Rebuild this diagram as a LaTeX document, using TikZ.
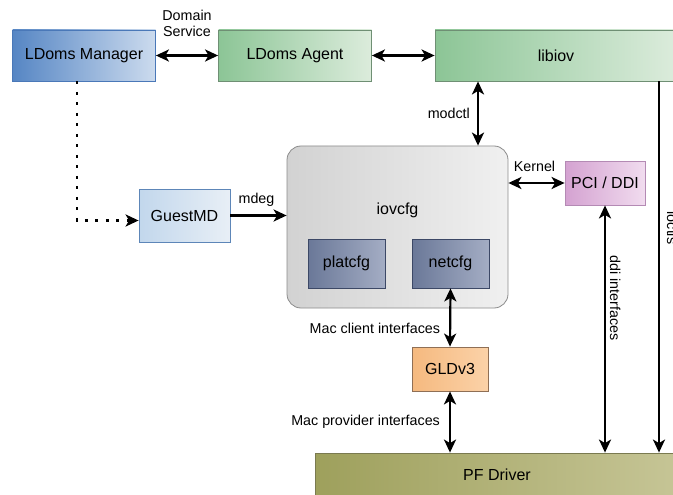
\documentclass[tikz,border=0pt]{standalone}
\usepackage{fontspec}
\setmainfont{Liberation Sans}
\usetikzlibrary{arrows.meta,positioning}

\definecolor{mgrL}{HTML}{5686C4}
\definecolor{mgrR}{HTML}{CCDBEE}
\definecolor{mgrD}{HTML}{4A78B8}
\definecolor{agtL}{HTML}{8CC596}
\definecolor{agtR}{HTML}{DCECDC}
\definecolor{agtD}{HTML}{6F8F74}
\definecolor{gstL}{HTML}{C2D7EC}
\definecolor{gstR}{HTML}{E8EFF6}
\definecolor{gstD}{HTML}{5D86B8}
\definecolor{iovL}{HTML}{D2D2D2}
\definecolor{iovR}{HTML}{F0F0F0}
\definecolor{iovD}{HTML}{8C8C8C}
\definecolor{cfgL}{HTML}{6A7898}
\definecolor{cfgR}{HTML}{A4ADC4}
\definecolor{cfgD}{HTML}{3C4866}
\definecolor{pciL}{HTML}{D4A2D1}
\definecolor{pciR}{HTML}{F1DCEF}
\definecolor{pciD}{HTML}{B48AB4}
\definecolor{gldL}{HTML}{F5B97F}
\definecolor{gldR}{HTML}{FBD2A8}
\definecolor{gldD}{HTML}{8F6F55}
\definecolor{pfL}{HTML}{9EA05C}
\definecolor{pfR}{HTML}{C6C596}
\definecolor{pfD}{HTML}{7A7A50}

\begin{document}
\begin{tikzpicture}[x=1pt,y=-1pt,>={Stealth[length=13pt,width=12pt,inset=3.5pt]},line width=2.2pt]
  \tikzstyle{box}=[rectangle,line width=0.8pt,inner sep=0pt,
                   font=\fontsize{16}{19}\selectfont]
  \tikzstyle{lbl}=[font=\fontsize{14.3}{16}\selectfont,inner sep=1pt]
  \tikzstyle{mgr box}=[box,draw=mgrD,left color=mgrL,right color=mgrR]
  \tikzstyle{agt box}=[box,draw=agtD,left color=agtL,right color=agtR]
  \tikzstyle{cfg box}=[box,draw=cfgD,left color=cfgL,right color=cfgR]
  \clip (0,0) rectangle (673,495);
  \fill[white] (0,0) rectangle (673,495);
  % top row
  \node [mgr box,minimum width=143pt,minimum height=51pt] (mgr) at (84,55.5) {LDoms Manager};
  \node [agt box,minimum width=153pt,minimum height=51pt] (agent) at (295,55.5) {LDoms Agent};
  \node [agt box,minimum width=242pt,minimum height=51pt] (libiov) at (556,55.5) {libiov};
  % middle
  \node [box,draw=gstD,left color=gstL,right color=gstR,
         minimum width=91pt,minimum height=53pt] (guest) at (184.5,215.5) {GuestMD};
  \node [box,draw=iovD,left color=iovL,right color=iovR,rounded corners=14pt,
         minimum width=221pt,minimum height=162pt,
         label={[font=\fontsize{16}{19}\selectfont,yshift=17pt]center:iovcfg}] (iovcfg) at (397.5,227) {};
  \node [cfg box,minimum width=77pt,minimum height=49pt] (platcfg) at (346.5,263.5) {platcfg};
  \node [cfg box,minimum width=77pt,minimum height=49pt] (netcfg) at (450.5,263.5) {netcfg};
  \node [box,draw=pciD,left color=pciL,right color=pciR,
         minimum width=80pt,minimum height=44pt] (pci) at (605,183) {PCI / DDI};
  % bottom
  \node [box,draw=gldD,left color=gldL,right color=gldR,
         minimum width=76pt,minimum height=44pt] (gld) at (450,369) {GLDv3};
  \node [box,draw=pfD,left color=pfL,right color=pfR,
         minimum width=364pt,minimum height=44pt] (pf) at (497,475) {PF Driver};
  \coordinate (modx) at (478,0);
  \coordinate (ioctx) at (659,0);

  \draw [<->] (mgr) -- (agent)
    node [lbl,midway,above=17pt,align=center] {Domain\\Service};
  \draw [<->] (agent) -- (libiov);
  \draw [<->] (iovcfg.north -| modx) -- (libiov.south -| modx)
    node [lbl,midway,left=6pt] {modctl};
  \draw [->,line width=2.5pt,dash pattern=on 3pt off 7.5pt] ([xshift=-7pt]mgr.south) |- ([yshift=-5pt]guest.west);
  \draw [->] (guest.east) -- (guest.east -| iovcfg.west)
    node [lbl,midway,above=7pt,xshift=-2pt] {mdeg};
  \draw [<->] (iovcfg.east |- pci) -- (pci.west)
    node [lbl,midway,above=9pt,xshift=-2pt] {Kernel};
  \draw [<->] (pci.south) -- (pci.south |- pf.north)
    node [lbl,pos=0.375,rotate=-90,anchor=south,inner sep=4pt] {ddi interfaces};
  \draw [->] (libiov.south -| ioctx) -- (pf.north -| ioctx)
    node [lbl,pos=0.395,rotate=-90,anchor=south,inner sep=7pt] {ioctls};
  \draw [<->] (netcfg.south) -- (gld.north)
    node [lbl,pos=0.68,left=8pt] {Mac client interfaces};
  \draw [<->] (gld.south) -- (gld.south |- pf.north)
    node [lbl,midway,left=8pt] {Mac provider interfaces};
\end{tikzpicture}
\end{document}
